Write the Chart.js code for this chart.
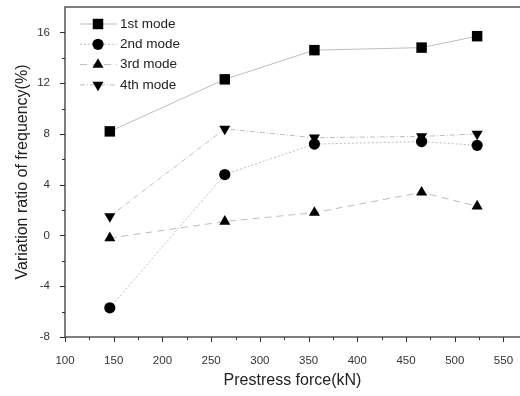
<!DOCTYPE html>
<html>
<head>
<meta charset="utf-8">
<script src="https://cdn.jsdelivr.net/npm/chart.js@4.4.1/dist/chart.umd.min.js"></script>
<style>
    html, body { margin: 0; padding: 0; background: #fff; }
    #wrap { width: 520px; height: 396px; }
</style>
</head>
<body>
<div id="wrap"><canvas id="freqChart" width="520" height="396"></canvas></div>
<script>
// prestress force (kN) at each test stage
var prestress = [146, 264, 356, 466, 523];
// variation ratio of frequency (%) per mode
var mode1 = [8.2, 12.3, 14.6, 14.8, 15.7];
var mode2 = [-5.7, 4.8, 7.2, 7.4, 7.1];
var mode3 = [-0.2, 1.1, 1.8, 3.4, 2.3];
var mode4 = [1.5, 8.4, 7.7, 7.8, 8.0];
var modeLabels = ['1st mode', '2nd mode', '3rd mode', '4th mode'];
// axis ticks
var xTicks = [100, 125, 150, 175, 200, 225, 250, 275, 300, 325, 350, 375, 400, 425, 450, 475, 500, 525, 550];
var yTicks = [-8, -6, -4, -2, 0, 2, 4, 6, 8, 10, 12, 14, 16];

var FONT = '"Liberation Sans", Arial, sans-serif';

function toPoints(ys) {
    var pts = [];
    for (var i = 0; i < prestress.length; i++) {
        pts.push({x: prestress[i], y: ys[i]});
    }
    return pts;
}

function makeSet(label, ys, style, radius, rotation, dash) {
    return {
        label: label,
        data: toPoints(ys),
        borderColor: '#bdbdbd',
        borderWidth: 1,
        borderDash: dash,
        pointStyle: style,
        pointRadius: radius,
        pointHoverRadius: radius,
        pointRotation: rotation,
        pointBackgroundColor: '#000',
        pointBorderColor: '#000',
        pointBorderWidth: 0,
        tension: 0,
        fill: false
    };
}

function setTicks(list) {
    return function (s) {
        s.ticks = list.map(function (v) { return {value: v}; });
    };
}

// frame, tick marks and the in-plot legend
var framePlugin = {
    id: 'frame',
    afterDraw: function (chart) {
        var ctx = chart.ctx;
        var a = chart.chartArea;
        var xs = chart.scales.x;
        var ys = chart.scales.y;
        ctx.save();
        ctx.strokeStyle = '#555';
        ctx.lineWidth = 1.5;
        ctx.beginPath();
        ctx.moveTo(a.right, a.top);
        ctx.lineTo(a.left, a.top);
        ctx.lineTo(a.left, a.bottom);
        ctx.lineTo(a.right, a.bottom);
        ctx.stroke();

        ctx.lineWidth = 1;
        ctx.strokeStyle = '#333';
        ctx.beginPath();
        xs.ticks.forEach(function (t) {
            var px = Math.round(xs.getPixelForValue(t.value)) + 0.5;
            var len = t.value % 50 === 0 ? 5 : 3;
            ctx.moveTo(px, a.bottom);
            ctx.lineTo(px, a.bottom + len);
        });
        ys.ticks.forEach(function (t) {
            var py = Math.round(ys.getPixelForValue(t.value)) + 0.5;
            var len = t.value % 4 === 0 ? 5 : 3;
            ctx.moveTo(a.left, py);
            ctx.lineTo(a.left - len, py);
        });
        ctx.stroke();

        // legend
        chart.data.datasets.forEach(function (ds, i) {
            var y = 24 + i * 20.3;
            ctx.save();
            ctx.strokeStyle = ds.borderColor;
            ctx.lineWidth = 1;
            ctx.setLineDash(ds.borderDash || []);
            ctx.beginPath();
            ctx.moveTo(80, y);
            ctx.lineTo(117, y);
            ctx.stroke();
            ctx.restore();
            ctx.fillStyle = '#000';
            ctx.strokeStyle = '#000';
            Chart.helpers.drawPoint(ctx, {
                pointStyle: ds.pointStyle,
                rotation: ds.pointRotation,
                radius: ds.pointRadius,
                borderWidth: 0
            }, 98, y);
            ctx.fillStyle = '#222';
            ctx.font = '13.5px ' + FONT;
            ctx.textAlign = 'left';
            ctx.textBaseline = 'middle';
            ctx.fillText(ds.label, 120, y);
        });
        ctx.restore();
    }
};

new Chart(document.getElementById('freqChart'), {
    type: 'line',
    data: {
        datasets: [
            makeSet(modeLabels[0], mode1, 'rect', 7.4, 0, []),
            makeSet(modeLabels[1], mode2, 'circle', 5.6, 0, [2, 2]),
            makeSet(modeLabels[2], mode3, 'triangle', 6.4, 0, [7, 5]),
            makeSet(modeLabels[3], mode4, 'triangle', 6.4, 180, [5, 2, 1, 2])
        ]
    },
    options: {
        responsive: false,
        animation: false,
        layout: { autoPadding: false, padding: { top: 7, right: 0, left: 0, bottom: 0 } },
        plugins: {
            legend: { display: false },
            tooltip: { enabled: false }
        },
        scales: {
            x: {
                type: 'linear',
                min: 100,
                max: 567,
                grid: { display: false },
                border: { display: false },
                afterBuildTicks: setTicks(xTicks),
                afterFit: function (s) { s.height = 59; s.paddingLeft = 0; s.paddingRight = 0; },
                ticks: {
                    padding: 9,
                    color: '#333',
                    font: { family: FONT, size: 11.5 },
                    maxRotation: 0,
                    autoSkip: false,
                    callback: function (v) { return v % 50 === 0 ? String(v) : ''; }
                },
                title: {
                    display: true,
                    text: 'Prestress force(kN)',
                    color: '#222',
                    font: { family: FONT, size: 16 },
                    padding: { top: 0, bottom: 6 }
                }
            },
            y: {
                min: -8,
                max: 18,
                grid: { display: false },
                border: { display: false },
                afterBuildTicks: setTicks(yTicks),
                afterFit: function (s) { s.width = 65; s.paddingTop = 0; s.paddingBottom = 0; },
                ticks: {
                    padding: 7,
                    color: '#333',
                    font: { family: FONT, size: 11.5 },
                    autoSkip: false,
                    callback: function (v) { return v % 4 === 0 ? String(v) : ''; }
                },
                title: {
                    display: true,
                    text: 'Variation ratio of frequency(%)',
                    color: '#222',
                    font: { family: FONT, size: 16 },
                    padding: { top: 13, bottom: 0 }
                }
            }
        }
    },
    plugins: [framePlugin]
});
</script>
</body>
</html>
